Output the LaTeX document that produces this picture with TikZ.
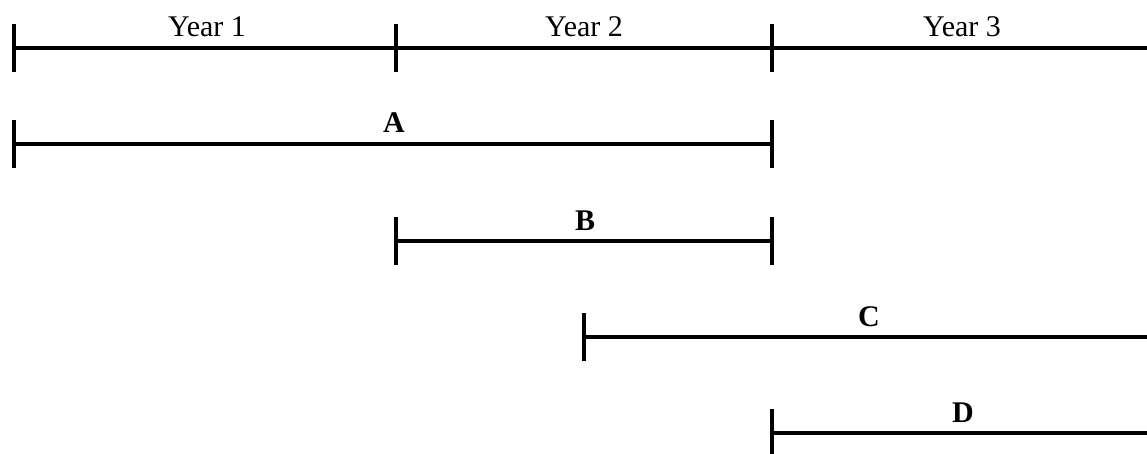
\documentclass[tikz,border=0pt]{standalone}
\usepackage{fontspec}
\setmainfont{Liberation Serif}
\begin{document}
\begin{tikzpicture}[x=1pt,y=-1pt,
  bar/.style={line width=3.3pt},
  endtick/.style={line width=3.3pt},
  lbl/.style={anchor=base, inner sep=0pt, font=\fontsize{30}{36}\selectfont},
  blbl/.style={lbl, font=\fontsize{30}{36}\selectfont\bfseries}]
\useasboundingbox (0,0) rectangle (1147,454);

% time axis with year boundaries
\coordinate (t0) at (14,48);
\coordinate (t1) at (396,48);
\coordinate (t2) at (772,48);
\coordinate (t3) at (1147,48);
\draw[bar] (t0) -- (t3);
\foreach \p in {t0,t1,t2}
  \draw[endtick] ([yshift=24pt]\p) -- ([yshift=-24pt]\p);
\node[lbl] (yr1) at (207,37) {Year 1};
\node[lbl] (yr2) at (584,37) {Year 2};
\node[lbl] (yr3) at (962,37) {Year 3};

% period A
\coordinate (a0) at (14,144);
\coordinate (a1) at (772,144);
\draw[bar] (a0) -- (a1);
\foreach \p in {a0,a1}
  \draw[endtick] ([yshift=24pt]\p) -- ([yshift=-24pt]\p);
\node[blbl] (la) at (394,133) {A};

% period B
\coordinate (b0) at (396,241);
\coordinate (b1) at (772,241);
\draw[bar] (b0) -- (b1);
\foreach \p in {b0,b1}
  \draw[endtick] ([yshift=24pt]\p) -- ([yshift=-24pt]\p);
\node[blbl] (lb) at (585,230) {B};

% period C, open to the right
\coordinate (c0) at (584,337);
\coordinate (c1) at (1147,337);
\draw[bar] (c0) -- (c1);
\draw[endtick] ([yshift=24pt]c0) -- ([yshift=-24pt]c0);
\node[blbl] (lc) at (869,326) {C};

% period D, open to the right
\coordinate (d0) at (772,433);
\coordinate (d1) at (1147,433);
\draw[bar] (d0) -- (d1);
\draw[endtick] ([yshift=24pt]d0) -- ([yshift=-24pt]d0);
\node[blbl] (ld) at (963,422) {D};
\end{tikzpicture}
\end{document}
